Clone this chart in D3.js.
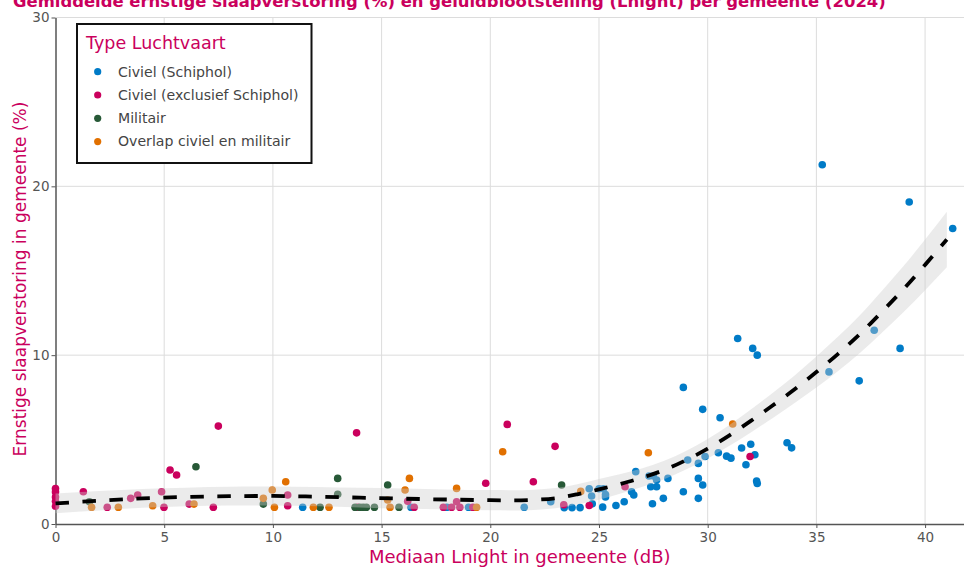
<!DOCTYPE html>
<html><head><meta charset="utf-8">
<script src="https://cdn.jsdelivr.net/npm/d3@7"></script>
<style>
html,body{margin:0;padding:0;background:#fff;}
svg{display:block;font-family:"DejaVu Sans",Verdana,sans-serif;}
</style></head>
<body>
<svg id="chart" width="964" height="567"></svg>
<script>
// ---------- DATA ----------
const titleText = "Gemiddelde ernstige slaapverstoring (%) en geluidblootstelling (Lnight) per gemeente (2024)";
const xTitle = "Mediaan Lnight in gemeente (dB)";
const yTitle = "Ernstige slaapverstoring in gemeente (%)";
const legendTitle = "Type Luchtvaart";
const categories = ["Civiel (Schiphol)", "Civiel (exclusief Schiphol)", "Militair", "Overlap civiel en militair"];
const xTicks = [0, 5, 10, 15, 20, 25, 30, 35, 40];
const yTicks = [0, 10, 20, 30];

const civielSchiphol = [[11.37,0.99],[16.35,0.99],[18.0,0.99],[19.0,0.99],[21.56,0.99],[22.78,1.32],
 [23.4,0.97],[23.76,0.97],[24.13,0.97],[24.55,2.09],[24.66,1.66],[24.69,1.2],
 [25.0,2.09],[25.2,2.09],[25.17,1.0],[25.3,1.75],[25.3,1.6],[25.78,1.1],[26.16,1.32],
 [26.5,1.91],[26.6,1.72],[26.69,3.1],[27.3,2.84],[27.5,2.84],[27.65,2.6],[27.38,2.21],[27.65,2.21],
 [27.46,1.2],[27.96,1.52],[28.17,2.7],[28.88,1.91],[28.88,8.09],[29.08,3.79],[29.57,3.59],[29.57,2.7],
 [29.77,2.31],[29.57,1.52],[29.77,6.79],[29.88,4.0],[30.49,4.22],[30.57,6.29],[30.87,4.02],[31.07,3.9],
 [31.38,10.99],[31.56,4.5],[31.76,3.51],[31.98,4.72],[32.17,4.1],[32.07,10.4],[32.28,10.0],[32.25,2.54],
 [32.28,2.4],[33.65,4.81],[33.86,4.51],[35.27,21.28],[35.58,9.01],[36.97,8.48],[37.66,11.48],[38.85,10.4],
 [39.27,19.07],[41.27,17.5]];
const civielExclSchiphol = [[0,2.1],[0,1.9],[0,1.6],[0,1.35],[0,1.05],[1.28,1.91],[2.38,0.99],[3.46,1.52],
 [3.78,1.72],[4.88,1.91],[4.99,0.99],[5.27,3.2],[5.57,2.9],[6.15,1.18],[7.26,0.99],[7.49,5.8],[10.68,1.72],
 [10.68,1.08],[13.85,5.4],[13.9,0.99],[16.2,1.35],[16.5,0.99],[17.84,0.99],[18.22,0.99],[18.45,1.32],
 [18.6,0.99],[19.2,0.99],[19.79,2.41],[20.78,5.9],[21.98,2.5],[22.98,4.6],[23.38,1.14],[24.55,1.1],
 [26.2,2.21],[31.95,4.0]];
const militair = [[1.56,1.32],[6.46,3.39],[9.56,1.18],[12.17,0.99],[12.98,2.7],[12.98,1.76],[13.78,0.99],
 [14.0,0.99],[14.15,0.99],[14.3,0.99],[14.67,0.99],[15.28,2.31],[15.8,0.99],[23.28,2.31]];
const overlapCivielMilitair = [[1.66,0.99],[2.89,0.99],[4.47,1.08],[6.37,1.18],[9.56,1.52],[9.97,2.01],
 [10.07,0.99],[10.59,2.5],[11.86,0.99],[12.58,0.99],[15.28,1.42],[15.39,0.99],[16.08,2.01],[16.28,2.7],
 [18.45,2.11],[19.37,0.99],[20.57,4.28],[24.16,1.93],[27.27,4.22],[31.15,5.92]];

// smoothed trend (loess) with confidence band
const fitX = [0,2,4,6,8,10,12,14,16,18,20,21,22,23,24,25,26,27,28,29,30,31,32,33,34,35,36,37,38,39,40,41];
const fitY = [1.22,1.38,1.52,1.6,1.65,1.66,1.62,1.56,1.5,1.45,1.41,1.4,1.43,1.53,1.76,2.05,2.38,2.75,3.2,3.78,4.46,5.25,6.12,7.03,7.98,9.0,10.08,11.25,12.55,13.9,15.35,16.85];
const fitLower = [0.64,0.8,0.96,1.05,1.1,1.1,1.05,0.98,0.9,0.86,0.81,0.8,0.83,0.93,1.16,1.43,1.8,2.2,2.65,3.23,3.88,4.63,5.44,6.28,7.16,8.08,9.06,10.13,11.31,12.54,13.85,15.2];
const fitUpper = [1.8,1.96,2.08,2.15,2.2,2.22,2.19,2.14,2.1,2.05,2.01,2.0,2.03,2.13,2.36,2.67,2.96,3.3,3.75,4.33,5.04,5.87,6.8,7.78,8.8,9.92,11.1,12.37,13.79,15.26,16.85,18.5];

// ---------- STYLE ----------
const colors = ["#007BC7", "#CA005D", "#275937", "#E17000"];
const accent = "#CA005D";
const series = [civielSchiphol, civielExclSchiphol, militair, overlapCivielMilitair];

const svg = d3.select("#chart");
const plot = {left: 55.5, right: 964, top: 17.5, bottom: 524};

const x = d3.scaleLinear().domain([0, 41.79]).range([plot.left, plot.right]);
const y = d3.scaleLinear().domain([0, 30]).range([plot.bottom, plot.top]);

// grid
const grid = svg.append("g");
grid.selectAll("line.v").data(xTicks.filter(d => d > 0)).join("line")
  .attr("x1", d => x(d)).attr("x2", d => x(d))
  .attr("y1", plot.top).attr("y2", plot.bottom)
  .attr("stroke", "#dcdcdc").attr("stroke-width", 1);
grid.selectAll("line.h").data(yTicks.filter(d => d > 0)).join("line")
  .attr("x1", plot.left).attr("x2", plot.right)
  .attr("y1", d => y(d)).attr("y2", d => y(d))
  .attr("stroke", "#dcdcdc").attr("stroke-width", 1);

// axes
const xAxis = d3.axisBottom(x).tickValues(xTicks).tickSize(4).tickSizeOuter(0).tickPadding(4);
const yAxis = d3.axisLeft(y).tickValues(yTicks).tickSize(4).tickSizeOuter(0).tickPadding(2);
const gx = svg.append("g").attr("transform", `translate(0,${plot.bottom})`).call(xAxis);
const gy = svg.append("g").attr("transform", `translate(${plot.left},0)`).call(yAxis);
[gx, gy].forEach(g => {
  g.select(".domain").attr("stroke", "#555").attr("stroke-width", 1.5);
  g.selectAll(".tick line").attr("stroke", "#555").attr("stroke-width", 1);
  g.selectAll(".tick text").attr("fill", "#555").attr("font-size", 13.5)
    .attr("font-family", '"DejaVu Sans",Verdana,sans-serif');
});

// points
const pts = svg.append("g");
series.forEach((s, i) => {
  pts.append("g").selectAll("circle").data(s).join("circle")
    .attr("cx", d => x(d[0])).attr("cy", d => y(d[1])).attr("r", 3.8)
    .attr("fill", colors[i]);
});

// ribbon (drawn over points, semi-transparent)
const fitData = fitX.map((v, i) => ({x: v, y: fitY[i], lo: fitLower[i], hi: fitUpper[i]}));
const area = d3.area().x(d => x(d.x)).y0(d => y(d.lo)).y1(d => y(d.hi)).curve(d3.curveMonotoneX);
svg.append("path").datum(fitData).attr("d", area)
  .attr("fill", "rgb(204,204,204)").attr("fill-opacity", 0.4);
const line = d3.line().x(d => x(d.x)).y(d => y(d.y)).curve(d3.curveMonotoneX);
svg.append("path").datum(fitData).attr("d", line)
  .attr("fill", "none").attr("stroke", "#000").attr("stroke-width", 3.8)
  .attr("stroke-dasharray", "13.5,13.5");

// title (partly above the top edge, as in the reference)
const t = svg.append("text").attr("x", 13).attr("y", 7)
  .attr("font-weight", "bold").attr("font-size", 16).attr("fill", accent).text(titleText);
const tl = t.node().getComputedTextLength();
t.attr("font-size", 16 * 873 / tl);

// axis titles
svg.append("text").attr("x", (plot.left + 964) / 2 + 10).attr("y", 563)
  .attr("text-anchor", "middle").attr("font-size", 18).attr("fill", accent).text(xTitle);
svg.append("text").attr("transform", "translate(26,279) rotate(-90)")
  .attr("text-anchor", "middle").attr("font-size", 17).attr("fill", accent).text(yTitle);

// legend
const lg = svg.append("g");
lg.append("rect").attr("x", 77).attr("y", 24).attr("width", 234.5).attr("height", 139)
  .attr("fill", "#fff").attr("stroke", "#111").attr("stroke-width", 2);
lg.append("text").attr("x", 86).attr("y", 49).attr("font-size", 17.5).attr("fill", accent).text(legendTitle);
categories.forEach((c, i) => {
  lg.append("circle").attr("cx", 97.7).attr("cy", 71.7 + i * 23.3).attr("r", 3.6).attr("fill", colors[i]);
  lg.append("text").attr("x", 118).attr("y", 76.5 + i * 23.3).attr("font-size", 14.1)
    .attr("fill", "#444").text(c);
});
</script>
</body></html>
